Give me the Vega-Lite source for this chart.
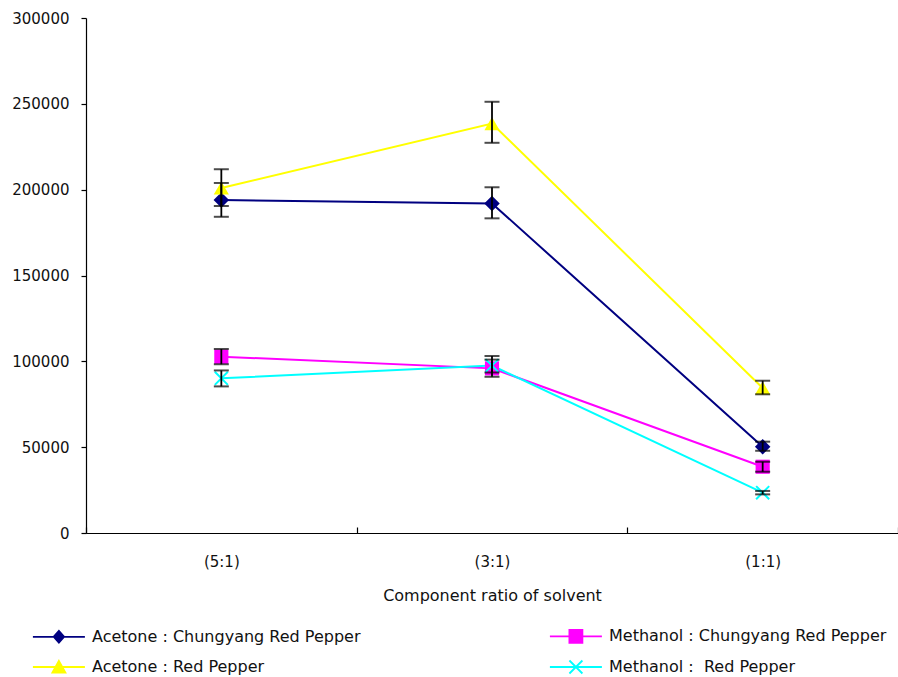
{
  "$schema": "https://vega.github.io/schema/vega-lite/v6.json",
  "width": 812,
  "height": 515,
  "autosize": {"type": "none"},
  "padding": {"left": 86, "top": 18, "right": 0, "bottom": 144},
  "background": "white",
  "config": {
    "view": {"stroke": null},
    "font": "DejaVu Sans",
    "axis": {"domainColor": "black", "tickColor": "black", "labelColor": "#111", "titleColor": "#111", "grid": false, "domainWidth": 1.2, "tickWidth": 1.2}
  },
  "data": {
    "values": [
      {"series": "Acetone : Chungyang Red Pepper", "ratio": "(5:1)", "value": 194000, "lo": 184200, "hi": 203900},
      {"series": "Acetone : Chungyang Red Pepper", "ratio": "(3:1)", "value": 192000, "lo": 183300, "hi": 201400},
      {"series": "Acetone : Chungyang Red Pepper", "ratio": "(1:1)", "value": 50300, "lo": 47900, "hi": 53200},
      {"series": "Acetone : Red Pepper", "ratio": "(5:1)", "value": 201000, "lo": 190500, "hi": 211900},
      {"series": "Acetone : Red Pepper", "ratio": "(3:1)", "value": 238500, "lo": 227300, "hi": 251200},
      {"series": "Acetone : Red Pepper", "ratio": "(1:1)", "value": 84500, "lo": 80800, "hi": 88700},
      {"series": "Methanol : Chungyang Red Pepper", "ratio": "(5:1)", "value": 102700, "lo": 98300, "hi": 107200},
      {"series": "Methanol : Chungyang Red Pepper", "ratio": "(3:1)", "value": 95900, "lo": 91000, "hi": 101000},
      {"series": "Methanol : Chungyang Red Pepper", "ratio": "(1:1)", "value": 38600, "lo": 35700, "hi": 41500},
      {"series": "Methanol :\u00a0 Red Pepper", "ratio": "(5:1)", "value": 90100, "lo": 85400, "hi": 94700},
      {"series": "Methanol :\u00a0 Red Pepper", "ratio": "(3:1)", "value": 97500, "lo": 93500, "hi": 103100},
      {"series": "Methanol :\u00a0 Red Pepper", "ratio": "(1:1)", "value": 23500, "lo": 22500, "hi": 24500}
    ]
  },
  "encoding": {
    "x": {
      "field": "ratio", "type": "nominal", "sort": ["(5:1)", "(3:1)", "(1:1)"],
      "scale": {"type": "band", "paddingInner": 0, "paddingOuter": 0},
      "axis": {"labelAngle": 0, "tickBand": "extent", "tickSize": -6, "labelPadding": 27, "labelFontSize": 15, "title": "Component ratio of solvent", "titleFontSize": 16, "titleFontWeight": "normal", "titlePadding": 18}
    }
  },
  "layer": [
    {
      "mark": {"type": "line", "strokeWidth": 2},
      "encoding": {
        "y": {"field": "value", "type": "quantitative", "scale": {"domain": [0, 300000]}, "axis": {"values": [0, 50000, 100000, 150000, 200000, 250000, 300000], "format": "d", "tickSize": 5, "labelPadding": 12, "labelFontSize": 15, "title": null}},
        "color": {"field": "series", "type": "nominal", "scale": {"domain": ["Acetone : Chungyang Red Pepper", "Methanol : Chungyang Red Pepper", "Acetone : Red Pepper", "Methanol :\u00a0 Red Pepper"], "range": ["#000080", "#FF00FF", "#FFFF00", "#00FFFF"]},
          "legend": {
            "orient": "bottom", "direction": "horizontal", "columns": 2, "columnPadding": 185, "rowPadding": 9, "offset": 25,
            "labelOffset": -10, "symbolSize": 169, "symbolStrokeWidth": 1.8, "title": null, "labelFontSize": 16, "labelColor": "#111", "labelLimit": 400,
            "symbolType": "M-9.4,0H-1.4",
            "encoding": {
              "symbols": {
                "shape": {"value": {"expr": "datum.index == 0 ? 'M-9.4,0H-1.4M-5.4,-0.9L-4.6,0L-5.4,0.9L-6.2,0Z' : datum.index == 1 ? 'M-9.4,0H-1.4M-6.4,-1H-4.4V1H-6.4Z' : datum.index == 2 ? 'M-9.4,0H-1.4M-5.4,-0.95L-4.4,0.85L-6.4,0.85Z' : 'M-9.4,0H-1.4M-6.4,-1L-4.4,1M-6.4,1L-4.4,-1'"}},
                "fill": {"value": {"expr": "scale('color', datum.value)"}}
              }
            }
          }
        }
      }
    },
    {
      "transform": [{"filter": "datum.series == 'Acetone : Chungyang Red Pepper'"}],
      "mark": {"type": "point", "shape": "diamond", "filled": true, "opacity": 1, "size": 240, "color": "#000080"},
      "encoding": {"y": {"field": "value", "type": "quantitative"}}
    },
    {
      "transform": [{"filter": "datum.series == 'Acetone : Red Pepper'"}],
      "mark": {"type": "point", "shape": "triangle-up", "filled": true, "opacity": 1, "size": 230, "color": "#FFFF00"},
      "encoding": {"y": {"field": "value", "type": "quantitative"}}
    },
    {
      "transform": [{"filter": "datum.series == 'Methanol : Chungyang Red Pepper'"}],
      "mark": {"type": "point", "shape": "square", "filled": true, "opacity": 1, "size": 200, "color": "#FF00FF"},
      "encoding": {"y": {"field": "value", "type": "quantitative"}}
    },
    {
      "transform": [{"filter": "datum.series == 'Methanol :\u00a0 Red Pepper'"}],
      "mark": {"type": "point", "shape": "M-1,-1L1,1M-1,1L1,-1", "filled": false, "opacity": 1, "size": 170, "strokeWidth": 2, "color": "#00FFFF"},
      "encoding": {"y": {"field": "value", "type": "quantitative"}}
    },
    {
      "mark": {"type": "rule", "color": "black", "strokeWidth": 1.8},
      "encoding": {"y": {"field": "lo", "type": "quantitative"}, "y2": {"field": "hi"}}
    },
    {
      "mark": {"type": "tick", "color": "black", "size": 15, "thickness": 2, "orient": "horizontal"},
      "encoding": {"y": {"field": "lo", "type": "quantitative"}}
    },
    {
      "mark": {"type": "tick", "color": "black", "size": 15, "thickness": 2, "orient": "horizontal"},
      "encoding": {"y": {"field": "hi", "type": "quantitative"}}
    }
  ]
}
